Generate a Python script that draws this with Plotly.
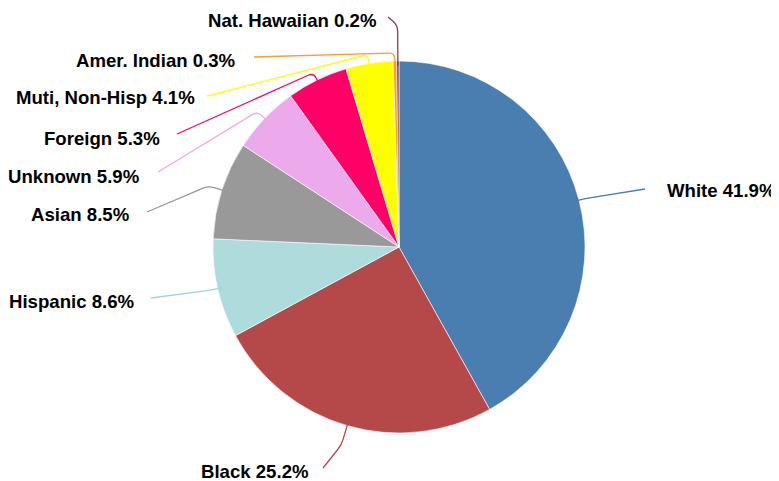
import math
import plotly.graph_objects as go

# ---- data ----
labels = ["White", "Black", "Hispanic", "Asian", "Unknown", "Foreign",
          "Muti, Non-Hisp", "Amer. Indian", "Nat. Hawaiian"]
values = [41.9, 25.2, 8.6, 8.5, 5.9, 5.3, 4.1, 0.3, 0.2]
colors = ["#4A7EB0", "#B54848", "#AEDBDC", "#999999", "#ECAAEC", "#FF0066",
          "#FFFF00", "#FF9933", "#8B3E4E"]
line_colors = ["#4A7EB0", "#B54848", "#9ED6D6", "#999999", "#ECAAEC", "#FF0066",
               "#FFFF00", "#FF9933", "#8B3E4E"]

# ---- layout constants (screen pixels) ----
OFF = 8                      # default page margin of the html body
W, H = 779 - OFF, 481 - OFF  # figure size
CX, CY, R = 399, 247, 186
# label text anchor: (x, y, xanchor)
label_pos = [(665, 191, "left"), (255, 471, "center"), (137, 301, "right"),
             (132, 214, "right"), (142, 176, "right"), (162, 138, "right"),
             (197, 98, "right"), (238, 60, "right"), (379, 21, "right")]
# leader line end near label
line_end = [(645, 189), (323, 468), (151, 298), (147, 212), (158, 172),
            (177, 134), (207, 96), (254, 57), (388, 17)]
# extra radius of the leader line elbow
elbow_ext = [5, 20, 5, 14, 10, 8, 9, 8, 36]

def px(x, y):
    return (x - OFF) / W, 1 - (y - OFF) / H

d0 = px(CX - R, CY + R)
d1 = px(CX + R, CY - R)
fig = go.Figure(go.Pie(
    labels=labels, values=values, sort=False, direction="clockwise",
    rotation=0, textinfo="none", hoverinfo="label+percent",
    marker=dict(colors=colors, line=dict(color="white", width=0.6)),
    domain=dict(x=[d0[0], d1[0]], y=[d0[1], d1[1]]),
    showlegend=False,
))

total = sum(values)
cum = 0.0
shapes = []
annotations = []

def toward(a, b, d):
    dx, dy = b[0] - a[0], b[1] - a[1]
    L = math.hypot(dx, dy) or 1
    d = min(d, L * 0.5)
    return (a[0] + dx / L * d, a[1] + dy / L * d)

for i, v in enumerate(values):
    mid = (cum + v / 2) / total * 2 * math.pi
    cum += v
    sx, sy = math.sin(mid), -math.cos(mid)
    p0 = (CX + (R - 5) * sx, CY + (R - 5) * sy)
    el = (CX + (R + elbow_ext[i]) * sx, CY + (R + elbow_ext[i]) * sy)
    p2 = line_end[i]
    a = toward(el, p0, 6)
    b = toward(el, p2, 6)
    P = [px(*p) for p in (p0, a, el, b, p2)]
    path = (f"M {P[0][0]},{P[0][1]} L {P[1][0]},{P[1][1]} "
            f"Q {P[2][0]},{P[2][1]} {P[3][0]},{P[3][1]} L {P[4][0]},{P[4][1]}")
    shapes.append(dict(type="path", path=path, xref="paper", yref="paper",
                       line=dict(color=line_colors[i], width=1.3)))

    lx, ly, anc = label_pos[i]
    ax, ay = px(lx, ly)
    annotations.append(dict(
        x=ax, y=ay, xref="paper", yref="paper", xanchor=anc, yanchor="middle",
        text=f"<b>{labels[i]} {v:.1f}%</b>", showarrow=False,
        font=dict(family="Liberation Sans, Arial, sans-serif", size=18.6,
                  color="#000000")))

fig.update_layout(
    width=W, height=H, margin=dict(l=0, r=0, t=0, b=0),
    paper_bgcolor="white", plot_bgcolor="white",
    shapes=shapes, annotations=annotations,
)

fig.write_html("out.html")
